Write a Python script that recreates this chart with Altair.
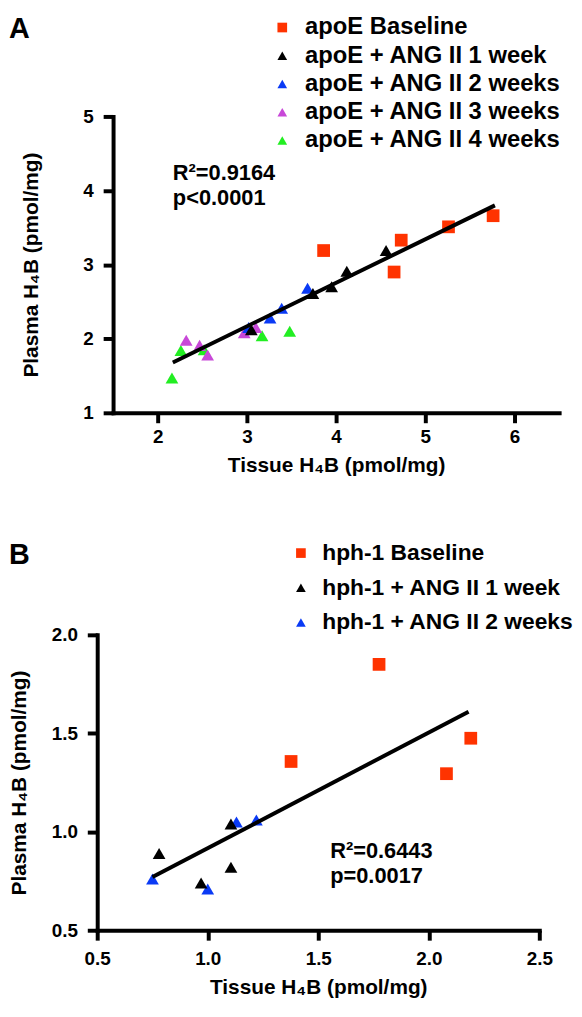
import altair as alt
import pandas as pd

FONT = "Liberation Sans"

# ---------------- Panel A data ----------------
a_groups = ["apoE Baseline", "apoE + ANG II 1 week", "apoE + ANG II 2 weeks",
            "apoE + ANG II 3 weeks", "apoE + ANG II 4 weeks"]
a_colors = ["#FF3300", "#000000", "#0A3AF5", "#C848D8", "#22EE22"]
a_shapes = ["square", "triangle-up", "triangle-up", "triangle-up", "triangle-up"]
a_base_x = [3.86, 4.73, 4.65, 5.26, 5.76]
a_base_y = [3.19, 3.33, 2.90, 3.51, 3.66]
a_w1_x = [3.05, 3.74, 3.95, 4.12, 4.56]
a_w1_y = [2.12, 2.61, 2.70, 2.91, 3.19]
a_w2_x = [3.02, 3.26, 3.39, 3.68]
a_w2_y = [2.15, 2.28, 2.41, 2.68]
a_w3_x = [2.32, 2.47, 2.56, 2.97, 3.10]
a_w3_y = [1.98, 1.91, 1.78, 2.08, 2.15]
a_w4_x = [2.16, 2.26, 2.52, 3.17, 3.48]
a_w4_y = [1.47, 1.84, 1.85, 2.04, 2.10]
a_fit_x = [2.17, 5.78]
a_fit_y = [1.68, 3.80]
a_x_ticks = [2, 3, 4, 5, 6]
a_y_ticks = [1, 2, 3, 4, 5]
a_stats = ["R²=0.9164", "p<0.0001"]
a_stats_x = [2.17, 2.17]
a_stats_y = [4.14, 3.80]

# ---------------- Panel B data ----------------
b_groups = ["hph-1 Baseline", "hph-1 + ANG II 1 week", "hph-1 + ANG II 2 weeks"]
b_colors = ["#FF3300", "#000000", "#0A3AF5"]
b_shapes = ["square", "triangle-up", "triangle-up"]
b_base_x = [1.377, 1.775, 2.08, 2.19]
b_base_y = [1.357, 1.85, 1.295, 1.475]
b_w1_x = [0.78, 0.97, 1.105, 1.105]
b_w1_y = [0.89, 0.74, 0.82, 1.04]
b_w2_x = [0.75, 1.0, 1.13, 1.22]
b_w2_y = [0.76, 0.71, 1.05, 1.06]
b_fit_x = [0.75, 2.18]
b_fit_y = [0.77, 1.61]
b_x_ticks = [0.5, 1.0, 1.5, 2.0, 2.5]
b_y_ticks = [0.5, 1.0, 1.5, 2.0]
b_stats = ["R²=0.6443", "p=0.0017"]
b_stats_x = [1.554, 1.554]
b_stats_y = [0.868, 0.738]


def frame(groups, xs, ys):
    rows = []
    for g, gx, gy in zip(groups, xs, ys):
        for xv, yv in zip(gx, gy):
            rows.append({"group": g, "x": xv, "y": yv})
    return pd.DataFrame(rows)


def panel(letter, groups, colors, shapes, xs, ys, fit_x, fit_y, stats, sx, sy,
          xdom, ydom, xticks, yticks, fmt, width, height, x_shift,
          letter_dx, letter_dy, leg_x, leg_y, leg_font, leg_rowpad, leg_offset,
          ytitle, ytitle_x, x_label_pad):
    df = frame(groups, xs, ys)
    draw_order = {g: i for i, g in enumerate(reversed(groups))}
    df["order"] = df["group"].map(draw_order)

    x_axis = alt.Axis(values=xticks, format=fmt, title="Tissue H₄B (pmol/mg)",
                      grid=False, domainColor="black", domainWidth=4, domainCap="square",
                      tickColor="black", tickWidth=4, tickSize=10, labelPadding=x_label_pad,
                      labelFont=FONT, labelFontSize=19, labelFontWeight="bold",
                      labelColor="black", titleFont=FONT, titleFontSize=21,
                      titleFontWeight="bold", titleColor="black", titlePadding=8,
                      labelFlush=False)
    y_axis = alt.Axis(values=yticks, format=fmt, title=ytitle, offset=x_shift,
                      grid=False, domainColor="black", domainWidth=4, domainCap="square",
                      tickColor="black", tickWidth=4, tickSize=10, labelPadding=10,
                      labelFont=FONT, labelFontSize=19, labelFontWeight="bold",
                      labelColor="black", titleFont=FONT, titleFontSize=21,
                      titleFontWeight="bold", titleColor="black",
                      titleX=ytitle_x, titleY=height / 2, labelFlush=False)
    xscale = alt.Scale(domain=xdom, nice=False, zero=False,
                       range=[-x_shift, width])
    xenc = alt.X("x:Q", scale=xscale, axis=x_axis)
    yenc = alt.Y("y:Q", scale=alt.Scale(domain=ydom, nice=False, zero=False), axis=y_axis)

    legend = alt.Legend(title=None, orient="none", legendX=leg_x, legendY=leg_y,
                        padding=0, labelFont=FONT, labelFontSize=leg_font,
                        labelFontWeight="bold", labelColor="black", symbolSize=95,
                        symbolStrokeWidth=0, rowPadding=leg_rowpad,
                        labelOffset=leg_offset, labelLimit=400)

    pts = alt.Chart(df).mark_point(filled=True, opacity=1, size=165, strokeWidth=0).encode(
        x=xenc, y=yenc,
        color=alt.Color("group:N", scale=alt.Scale(domain=groups, range=colors), legend=legend),
        shape=alt.Shape("group:N", scale=alt.Scale(domain=groups, range=shapes), legend=legend),
        order=alt.Order("order:Q"),
    )
    line = alt.Chart(pd.DataFrame({"x": fit_x, "y": fit_y})).mark_line(
        color="black", strokeWidth=4).encode(x="x:Q", y="y:Q")
    txt = alt.Chart(pd.DataFrame({"t": stats, "x": sx, "y": sy})).mark_text(
        align="left", baseline="alphabetic", font=FONT, fontSize=22,
        fontWeight="bold", color="black").encode(x="x:Q", y="y:Q", text="t:N")
    let = alt.Chart(pd.DataFrame({"t": [letter]})).mark_text(
        align="left", baseline="top", font=FONT, fontSize=29, fontWeight="bold",
        color="black").encode(x=alt.value(letter_dx), y=alt.value(letter_dy), text="t:N")
    return alt.layer(pts, line, txt, let).properties(width=width, height=height)


chartA = panel("A", a_groups, a_colors, a_shapes,
               [a_base_x, a_w1_x, a_w2_x, a_w3_x, a_w4_x],
               [a_base_y, a_w1_y, a_w2_y, a_w3_y, a_w4_y],
               a_fit_x, a_fit_y, a_stats, a_stats_x, a_stats_y,
               [1.5, 6.5], [1, 5], a_x_ticks, a_y_ticks, "d", 450, 299, 0,
               -105, -101.7, 158.7, -101.7, 24, 4.5, 11,
               "Plasma H₄B  (pmol/mg)", -72, 5)

chartB = panel("B", b_groups, b_colors, b_shapes,
               [b_base_x, b_w1_x, b_w2_x],
               [b_base_y, b_w1_y, b_w2_y],
               b_fit_x, b_fit_y, b_stats, b_stats_x, b_stats_y,
               [0.5, 2.5], [0.5, 2.0], b_x_ticks, b_y_ticks, ".1f", 430, 298, 16,
               -105, -94, 178, -94, 23, 11, 10,
               "Plasma H₄B (pmol/mg)", -68, 10)

chart = alt.vconcat(chartA, chartB, spacing=67).resolve_scale(
    x="independent", y="independent", color="independent", shape="independent"
).resolve_legend(color="independent", shape="independent").properties(
    padding={"top": 3, "left": 0, "right": 0, "bottom": 0}
).configure_view(stroke=None)

chart.save("out.html", embed_options={"renderer": "svg", "actions": False})
